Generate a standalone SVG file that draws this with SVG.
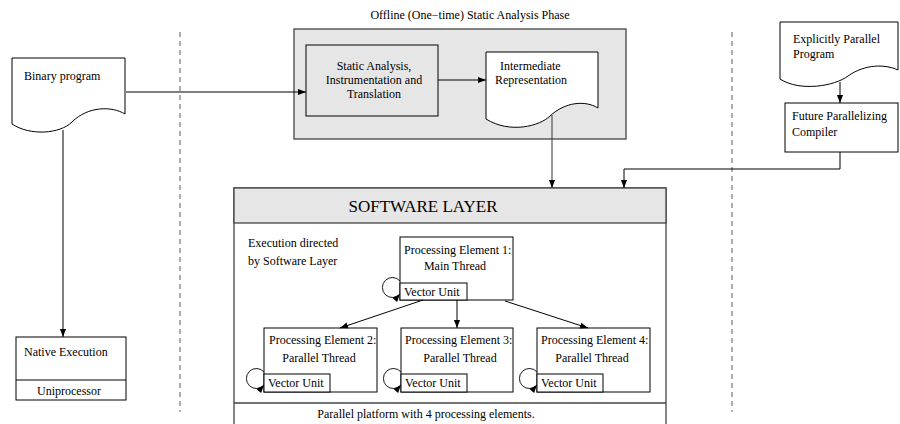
<svg xmlns="http://www.w3.org/2000/svg" width="900" height="424" viewBox="0 0 900 424">
  <style>
    text { font-family: "Liberation Serif", "Times New Roman", serif; font-size: 12px; fill: #000; }
    .mid { text-anchor: middle; }
    .box { fill: #fff; stroke: #000; stroke-width: 1; }
    .shade { fill: #e6e6e6; stroke: #444; stroke-width: 1.3; }
    .doc { fill: #fff; stroke: #000; stroke-width: 1; }
    .dash { stroke: #777; stroke-width: 1.2; stroke-dasharray: 5 4; fill: none; }
    .wire { fill: none; stroke: #000; stroke-width: 1; }
    .loop { fill: none; stroke: #000; stroke-width: 0.9; }
  </style>
  <defs>
    <marker id="arrow" viewBox="0 0 10 10" refX="10" refY="5" markerWidth="8" markerHeight="8" markerUnits="userSpaceOnUse" orient="auto">
      <path d="M0,1.2 L10,5 L0,8.8 Z" fill="#000"/>
    </marker>
  </defs>

  <rect width="900" height="424" fill="#fff"/>

  <!-- zone separators -->
  <line class="dash" x1="180" y1="32" x2="180" y2="412"/>
  <line class="dash" x1="732" y1="32" x2="732" y2="412"/>

  <!-- static analysis phase frame -->
  <g id="phase">
    <text class="mid" x="470" y="19">Offline (One−time) Static Analysis Phase</text>
    <rect class="shade" x="294" y="29" width="332" height="110"/>
  </g>

  <g id="binary-program">
    <path class="doc" d="M12,58 H125 V114 C112,106 88,106 72,122 C60,134 30,136 12,124 Z"/>
    <text x="24" y="80">Binary program</text>
  </g>

  <g id="static-analysis">
    <rect class="box" x="306" y="45" width="132" height="71" style="fill:#e6e6e6"/>
    <text class="mid" x="374" y="70">Static Analysis,</text>
    <text class="mid" x="374" y="84">Instrumentation and</text>
    <text class="mid" x="374" y="98">Translation</text>
  </g>

  <g id="intermediate-representation">
    <path class="doc" d="M486,52 H598 V108 C585,100 565,102 550,116 C540,126 510,134 486,119 Z"/>
    <text x="500" y="70">Intermediate</text>
    <text x="495" y="84">Representation</text>
  </g>

  <g id="explicitly-parallel-program">
    <path class="doc" d="M780,22 H898 V70 C885,64 865,64 848,76 C835,86 800,92 780,79 Z"/>
    <text x="793" y="43">Explicitly Parallel</text>
    <text x="793" y="58">Program</text>
  </g>

  <g id="future-compiler">
    <rect class="box" x="785" y="103" width="113" height="49"/>
    <text x="792" y="120">Future Parallelizing</text>
    <text x="792" y="136">Compiler</text>
  </g>

  <g id="native-execution">
    <rect class="box" x="16" y="337" width="110" height="63"/>
    <line class="wire" x1="16" y1="380" x2="126" y2="380"/>
    <text x="24" y="356">Native Execution</text>
    <text class="mid" x="69" y="395">Uniprocessor</text>
  </g>

  <g id="software-layer">
    <rect class="box" x="234" y="188" width="432" height="250" style="stroke:#444;stroke-width:1.3"/>
    <rect class="shade" x="234" y="188" width="432" height="35"/>
    <line x1="234" y1="403" x2="666" y2="403" stroke="#444" stroke-width="1.3"/>
    <text class="mid" x="423" y="212" style="font-size:17px">SOFTWARE LAYER</text>
    <text x="248" y="247">Execution directed</text>
    <text x="248" y="265">by Software Layer</text>
    <text class="mid" x="426" y="418">Parallel platform with 4 processing elements.</text>
  </g>

  <g id="pe1">
    <rect class="box" x="400" y="237" width="113" height="63"/>
    <text x="404" y="254">Processing Element 1:</text>
    <text class="mid" x="455" y="270">Main Thread</text>
    <rect class="box" x="400" y="283" width="67" height="17"/>
    <text x="404" y="296">Vector Unit</text>
  </g>

  <g id="pe2">
    <rect class="box" x="264" y="328" width="113" height="64"/>
    <text x="269" y="344">Processing Element 2:</text>
    <text class="mid" x="319" y="362">Parallel Thread</text>
    <rect class="box" x="264" y="374" width="66" height="18"/>
    <text x="268" y="387">Vector Unit</text>
  </g>

  <g id="pe3">
    <rect class="box" x="401" y="328" width="112" height="64"/>
    <text x="405" y="344">Processing Element 3:</text>
    <text class="mid" x="460" y="362">Parallel Thread</text>
    <rect class="box" x="401" y="374" width="66" height="18"/>
    <text x="405" y="387">Vector Unit</text>
  </g>

  <g id="pe4">
    <rect class="box" x="537" y="328" width="113" height="64"/>
    <text x="541" y="344">Processing Element 4:</text>
    <text class="mid" x="592" y="362">Parallel Thread</text>
    <rect class="box" x="537" y="374" width="66" height="18"/>
    <text x="541" y="387">Vector Unit</text>
  </g>

  <g id="connectors">
    <!-- binary program into the translator -->
    <line class="wire" x1="126" y1="92" x2="306" y2="92" marker-end="url(#arrow)"/>
    <!-- binary program runs natively -->
    <line class="wire" x1="63" y1="130" x2="63" y2="337" marker-end="url(#arrow)"/>
    <!-- translator to intermediate representation -->
    <line class="wire" x1="438" y1="80" x2="486" y2="80" marker-end="url(#arrow)"/>
    <!-- intermediate representation into the software layer -->
    <line class="wire" x1="552" y1="115" x2="552" y2="188" marker-end="url(#arrow)" style="stroke:#333"/>
    <!-- explicit program into compiler -->
    <line class="wire" x1="840" y1="82" x2="840" y2="103" marker-end="url(#arrow)"/>
    <!-- compiler into the software layer -->
    <polyline class="wire" points="840,152 840,169 624,169 624,188" marker-end="url(#arrow)"/>
    <!-- main thread spawns parallel threads -->
    <line class="wire" x1="423" y1="300" x2="340" y2="328" marker-end="url(#arrow)"/>
    <line class="wire" x1="457" y1="300" x2="457" y2="328" marker-end="url(#arrow)"/>
    <line class="wire" x1="505" y1="301" x2="588" y2="328" marker-end="url(#arrow)"/>
    <!-- vector unit self loops -->
    <path class="loop" d="M400,281 A10,10 0 1 0 400,294" marker-end="url(#arrow)"/>
    <path class="loop" d="M264,372 A10,10 0 1 0 264,385" marker-end="url(#arrow)"/>
    <path class="loop" d="M401,372 A10,10 0 1 0 401,385" marker-end="url(#arrow)"/>
    <path class="loop" d="M537,372 A10,10 0 1 0 537,385" marker-end="url(#arrow)"/>
  </g>
</svg>
